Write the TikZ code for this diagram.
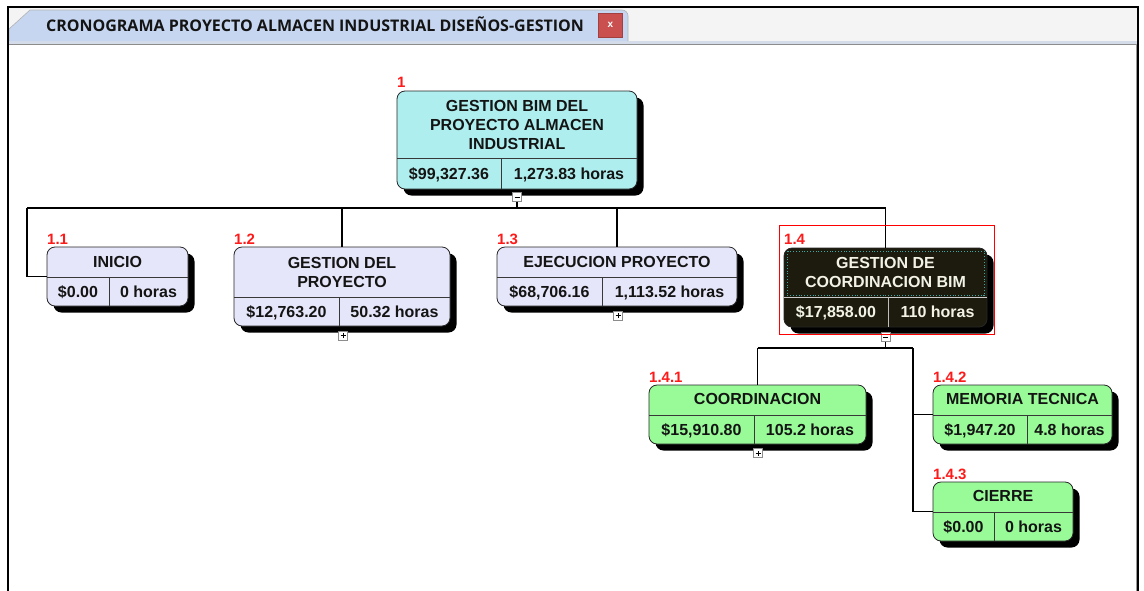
\documentclass[tikz,border=0pt]{standalone}
\usepackage{fontspec}
\setmainfont{Liberation Sans}
\newfontfamily\tabfont{Open Sans}
\definecolor{cyanbox}{HTML}{AFEEEE}
\definecolor{lavbox}{HTML}{E6E6FA}
\definecolor{greenbox}{HTML}{98FB98}
\definecolor{darkbox}{HTML}{1D1B0D}
\definecolor{tabblue}{HTML}{C6D6F0}
\definecolor{barbg}{HTML}{F4F4F4}
\definecolor{closered}{HTML}{C9504F}
\definecolor{numred}{HTML}{FF1A1A}
\definecolor{teal2}{HTML}{3FA6A6}
\definecolor{txt}{HTML}{141414}
\definecolor{lighttxt}{HTML}{F2F2E6}
\tikzset{
  wbs/.style={draw=black!85, line width=0.8pt, rounded corners=8pt, inner sep=0pt, outer sep=0pt},
  shad/.style={fill=black, draw=none, rounded corners=8pt, inner sep=0pt, outer sep=0pt},
  ttl/.style={font=\bfseries\fontsize{16}{19}\selectfont, align=center, inner sep=0pt, text=txt},
  val/.style={font=\bfseries\fontsize{16}{19}\selectfont, inner sep=0pt, text height=11.5pt, text depth=0pt, text=txt},
  num/.style={font=\bfseries\fontsize{15}{16}\selectfont, text=numred, anchor=base west, inner sep=0pt},
  divl/.style={draw=black!78, line width=0.8pt},
  conn/.style={draw=black, line width=1.7pt},
  tog/.style={draw=black!45, fill=white, minimum size=9pt, inner sep=0pt, line width=0.7pt},
  togsym/.style={draw=black, line width=0.9pt},
}
% name, L, T, R, B, style
\newcommand\wbsbox[6]{%
  \node[shad, minimum width={#4-#2}, minimum height={#5-#3}] (#1s) at ({(#2+#4)/2+6.5},{(#3+#5)/2+6.5}) {};
  \node[wbs, #6, minimum width={#4-#2}, minimum height={#5-#3}] (#1) at ({(#2+#4)/2},{(#3+#5)/2}) {};
}
% name, L, R, B, ydiv, xdiv, cost, hours, textstyle
\newcommand\wbsrow[9]{%
  \draw[divl] (#2,#5) -- (#3,#5);
  \draw[divl] (#6,#5) -- (#6,#4);
  \node[val, #9] (#1c) at ({(#2+#6)/2},{(#5+#4)/2}) {#7};
  \node[val, #9] (#1h) at ({(#6+#3)/2},{(#5+#4)/2}) {#8};
}
\newcommand\togmark[3]{% name, x, y
  \node[tog] (#1) at (#2,#3) {};
}
\begin{document}
\begin{tikzpicture}[x=1pt,y=-1pt]
\useasboundingbox (0,0) rectangle (1144,590);
\fill[white] (0,0) rectangle (1144,590);
% window frame and tab bar
\fill[barbg] (8,8) rectangle (1137,41);
\fill[tabblue!80!gray!60] (8,40.5) rectangle (1137,44);
\draw[black!45, line width=0.8pt] (8,44.5) -- (1137,44.5);
\filldraw[fill=tabblue, draw=black!30, line width=0.6pt] (9,41) -- (9,29) -- (30,10) -- (622,10) to[out=0,in=90] (628,16) -- (628,41);
\node[font=\tabfont\bfseries\fontsize{16}{18}\selectfont, text=txt, inner sep=0pt] (tabtitle) at (315,24.5) {CRONOGRAMA PROYECTO ALMACEN INDUSTRIAL DISEÑOS-GESTION};
\node[fill=closered, draw=closered!80!black, line width=0.5pt, minimum width=24pt, minimum height=24pt, inner sep=0pt, text=white, font=\bfseries\fontsize{10}{10}\selectfont] (closebtn) at (610.5,25) {x};
\draw[black, line width=2pt] (7.5,600) -- (7.5,7) -- (1138,7) -- (1138,600);
\draw[black!40, line width=0.8pt] (1136,44) -- (1136,600);

% ---- boxes (shadows + bodies) ----
\wbsbox{n1}{397}{91}{637}{189}{fill=cyanbox}
\wbsbox{n11}{47}{247}{188}{306}{fill=lavbox}
\wbsbox{n12}{234}{247}{450}{326}{fill=lavbox}
\wbsbox{n13}{497}{247}{737}{306}{fill=lavbox}
\wbsbox{n14}{784}{248}{987}{327}{fill=darkbox}
\wbsbox{n141}{649}{385}{866}{444}{fill=greenbox}
\wbsbox{n142}{933}{385}{1112}{444}{fill=greenbox}
\wbsbox{n143}{933}{482}{1073}{541}{fill=greenbox}

% ---- toggles ----
\togmark{t1}{517}{197}
\togmark{t12}{343}{335.5}
\togmark{t13}{618}{315.5}
\togmark{t14}{885.5}{337}
\togmark{t141}{758}{453}

% ---- connectors ----
\coordinate (b0) at (517,208);
\coordinate (bL) at (27,208);
\coordinate (bR) at (885.5,208);
\coordinate (b12) at (342,208);
\coordinate (b13) at (617,208);
\coordinate (c0) at (885.5,348);
\coordinate (cL) at (757.5,348);
\coordinate (cR) at (913,348);
\draw[conn] (t1.south) -- (b0);
\draw[conn] (bL) -- (bR);
\draw[conn] (bL) |- (n11.west);
\draw[conn] (b12) -- (n12.north);
\draw[conn] (b13) -- (n13.north);
\draw[conn] (bR) -- (n14.north);
\draw[conn] (t14.south) -- (c0);
\draw[conn] (cL) -- (cR);
\draw[conn] (cL) -- (n141.north);
\draw[conn] (cR) |- (n142.west);
\draw[conn] (cR) |- (n143.west);

% ---- contents ----
\wbsrow{n1}{397}{637}{189}{158}{501}{\$99,327.36}{1,273.83 horas}{}
\node[ttl] (n1t) at (517,124.5) {GESTION BIM DEL\\PROYECTO ALMACEN\\INDUSTRIAL};
\wbsrow{n11}{47}{188}{306}{277}{109}{\$0.00}{0 horas}{}
\node[ttl] (n11t) at (117.5,262) {INICIO};
\wbsrow{n12}{234}{450}{326}{297}{339}{\$12,763.20}{50.32 horas}{}
\node[ttl] (n12t) at (342,272) {GESTION DEL\\PROYECTO};
\wbsrow{n13}{497}{737}{306}{277}{602}{\$68,706.16}{1,113.52 horas}{}
\node[ttl] (n13t) at (617,262) {EJECUCION PROYECTO};
% dark node 1.4
\draw[draw=black!20, line width=0.8pt] (784,297) -- (987,297);
\draw[draw=black!25, line width=0.8pt] (888,297) -- (888,327);
\node[val, text=lighttxt] (n14c) at (836,312) {\$17,858.00};
\node[val, text=lighttxt] (n14h) at (937.5,312) {110 horas};
\node[ttl, text=lighttxt] (n14t) at (885.5,272) {GESTION DE\\COORDINACION BIM};
\draw[teal2, dotted, line width=0.8pt] (787,251) rectangle (984,295.5);
\draw[red, line width=0.8pt] (779,225) rectangle (994,334);
\wbsrow{n141}{649}{866}{444}{415}{754}{\$15,910.80}{105.2 horas}{}
\node[ttl] (n141t) at (757.5,399) {COORDINACION};
\wbsrow{n142}{933}{1112}{444}{415}{1027}{\$1,947.20}{4.8 horas}{}
\node[ttl] (n142t) at (1022.5,399) {MEMORIA TECNICA};
\wbsrow{n143}{933}{1073}{541}{512}{994}{\$0.00}{0 horas}{}
\node[ttl] (n143t) at (1003,496) {CIERRE};

% toggle symbols
\draw[togsym] ([xshift=-2.5pt]t1.center) -- ([xshift=2.5pt]t1.center);
\draw[togsym] ([xshift=-2.5pt]t14.center) -- ([xshift=2.5pt]t14.center);
\foreach \t in {t12,t13,t141}{
  \draw[togsym] ([xshift=-2.5pt]\t.center) -- ([xshift=2.5pt]\t.center);
  \draw[togsym] ([yshift=-2.5pt]\t.center) -- ([yshift=2.5pt]\t.center);
}

% ---- WBS numbers ----
\node[num] (l1) at (397,87) {1};
\node[num] (l11) at (47,244) {1.1};
\node[num] (l12) at (234,244) {1.2};
\node[num] (l13) at (497,244) {1.3};
\node[num] (l14) at (784,244) {1.4};
\node[num] (l141) at (649,382) {1.4.1};
\node[num] (l142) at (933,382) {1.4.2};
\node[num] (l143) at (933,479) {1.4.3};
\end{tikzpicture}
\end{document}
